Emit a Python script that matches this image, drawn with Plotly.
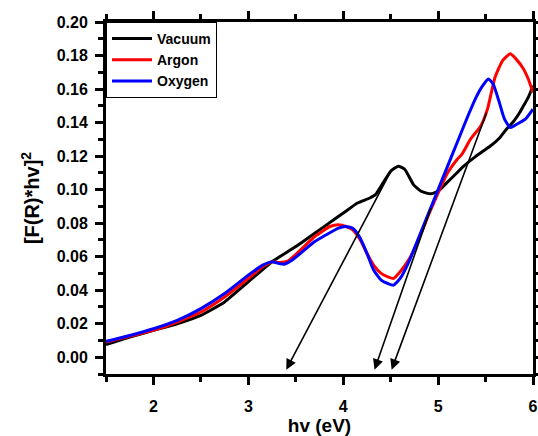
import plotly.graph_objects as go

# Vacuum
vac_x = [1.5, 1.75, 2.0, 2.25, 2.5, 2.75, 3.0, 3.25, 3.5, 3.75, 3.9, 4.05, 4.15, 4.28, 4.34, 4.42, 4.5, 4.58, 4.65, 4.74, 4.82, 4.92, 5.0, 5.09, 5.18, 5.27, 5.4, 5.55, 5.65, 5.72, 5.8, 5.86, 5.9, 5.95, 6.0]
vac_y = [0.0075, 0.012, 0.016, 0.020, 0.025, 0.033, 0.045, 0.057, 0.066, 0.076, 0.082, 0.088, 0.092, 0.095, 0.097, 0.104, 0.111, 0.114, 0.112, 0.103, 0.099, 0.0975, 0.099, 0.104, 0.109, 0.114, 0.120, 0.126, 0.131, 0.136, 0.141, 0.146, 0.150, 0.155, 0.162]

# Argon
ar_x = [1.5, 1.75, 2.0, 2.25, 2.5, 2.75, 3.0, 3.15, 3.25, 3.33, 3.42, 3.55, 3.7, 3.86, 3.95, 4.03, 4.1, 4.18, 4.25, 4.32, 4.4, 4.47, 4.53, 4.6, 4.7, 4.8, 4.9, 5.0, 5.1, 5.2, 5.25, 5.34, 5.45, 5.52, 5.6, 5.68, 5.76, 5.82, 5.9, 5.95, 6.0]
ar_y = [0.009, 0.0125, 0.016, 0.021, 0.027, 0.036, 0.047, 0.054, 0.057, 0.0565, 0.0575, 0.064, 0.072, 0.078, 0.079, 0.078, 0.076, 0.070, 0.062, 0.055, 0.050, 0.048, 0.047, 0.051, 0.059, 0.071, 0.085, 0.098, 0.110, 0.118, 0.121, 0.130, 0.138, 0.148, 0.167, 0.177, 0.181, 0.178, 0.172, 0.166, 0.158]

# Oxygen
ox_x = [1.5, 1.75, 2.0, 2.25, 2.5, 2.75, 3.0, 3.15, 3.25, 3.32, 3.38, 3.45, 3.55, 3.7, 3.85, 3.95, 4.02, 4.1, 4.17, 4.25, 4.32, 4.4, 4.47, 4.53, 4.6, 4.7, 4.8, 4.9, 5.0, 5.1, 5.2, 5.3, 5.4, 5.47, 5.53, 5.58, 5.64, 5.7, 5.76, 5.8, 5.86, 5.92, 6.0]
ox_y = [0.0095, 0.013, 0.017, 0.022, 0.029, 0.038, 0.049, 0.055, 0.057, 0.056, 0.0555, 0.0575, 0.062, 0.069, 0.074, 0.077, 0.078, 0.077, 0.072, 0.062, 0.052, 0.046, 0.044, 0.043, 0.047, 0.058, 0.072, 0.086, 0.100, 0.114, 0.128, 0.142, 0.155, 0.162, 0.166, 0.163, 0.153, 0.142, 0.137, 0.138, 0.140, 0.142, 0.148]

# Tangent arrows: tails and heads
arrow_tail_x = [4.52, 4.93, 5.516]
arrow_tail_y = [0.113, 0.090, 0.1467]
arrow_head_x = [3.40, 4.33, 4.51]
arrow_head_y = [-0.0074, -0.0074, -0.0074]

names = ["Vacuum", "Argon", "Oxygen"]
colors = ["#000000", "#ff0000", "#0000ff"]

FONT = "Liberation Sans, Arial, sans-serif"

fig = go.Figure()
for nm, xs, ys, c in zip(names, [vac_x, ar_x, ox_x], [vac_y, ar_y, ox_y], colors):
    fig.add_trace(go.Scatter(x=xs, y=ys, mode="lines", name=nm,
                             line=dict(color=c, width=3, shape="spline", smoothing=0.5)))

for tx, ty, hx, hy in zip(arrow_tail_x, arrow_tail_y, arrow_head_x, arrow_head_y):
    fig.add_annotation(x=hx, y=hy, ax=tx, ay=ty, xref="x", yref="y", axref="x", ayref="y",
                       showarrow=True, arrowhead=2, arrowsize=1.3, arrowwidth=1.6,
                       arrowcolor="black", text="")

axis_common = dict(showline=True, linecolor="black", linewidth=3, mirror="allticks",
                   ticks="outside", ticklen=8, tickwidth=3, tickcolor="black",
                   showgrid=False, zeroline=False, automargin=False,
                   tickfont=dict(family=FONT, size=16, color="black", weight="bold"))

fig.update_xaxes(range=[1.5, 6], tick0=0, dtick=1,
                 minor=dict(dtick=0.5, ticks="outside", ticklen=5, tickwidth=3, tickcolor="black"),
                 ticklabelstandoff=8,
                 title=dict(text="hv (eV)", font=dict(family=FONT, size=19, color="black", weight="bold"),
                            standoff=6),
                 **axis_common)
fig.update_yaxes(range=[-0.01, 0.20], tick0=0, dtick=0.02, tickformat=".2f",
                 minor=dict(dtick=0.01, ticks="outside", ticklen=5, tickwidth=3, tickcolor="black"),
                 ticklabelstandoff=4,
                 title=dict(text="[F(R)*hv]<sup>2</sup>", font=dict(family=FONT, size=20, color="black", weight="bold"),
                            standoff=12),
                 **axis_common)

fig.update_layout(
    width=538, height=436,
    margin=dict(l=106, r=5, t=22, b=62, autoexpand=False),
    plot_bgcolor="white", paper_bgcolor="white",
    showlegend=True,
    legend=dict(x=0.0, y=1.0, xanchor="left", yanchor="top",
                bordercolor="black", borderwidth=1, bgcolor="white",
                font=dict(family=FONT, size=14, color="black", weight="bold"),
                tracegroupgap=0, itemwidth=40),
)

fig.write_html("out.html")
